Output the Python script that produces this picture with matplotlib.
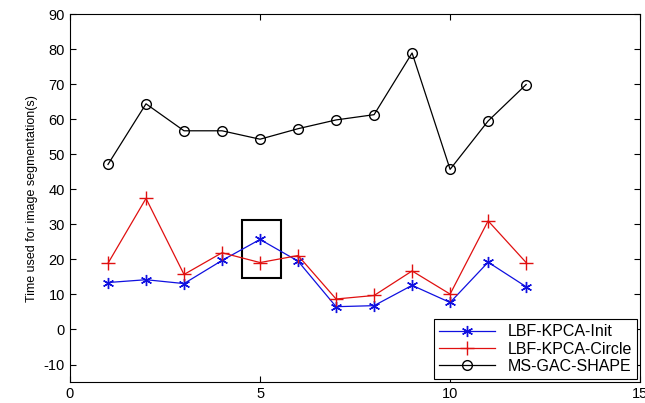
import matplotlib
matplotlib.use("Agg")
import matplotlib.pyplot as plt
from matplotlib.patches import Rectangle

plt.rcParams['font.family'] = ['Liberation Sans', 'DejaVu Sans']
plt.rcParams['axes.unicode_minus'] = False

images = [1, 2, 3, 4, 5, 6, 7, 8, 9, 10, 11, 12]
lbf_init = [13.4, 14.2, 13.1, 19.7, 25.7, 19.5, 6.5, 6.8, 12.6, 7.7, 19.2, 12.2]
lbf_circle = [18.9, 37.4, 15.7, 21.9, 19.1, 21.1, 8.7, 9.7, 16.7, 10.1, 31.0, 19.1]
ms_gac = [47.1, 64.4, 56.7, 56.7, 54.3, 57.3, 59.8, 61.3, 78.9, 45.7, 59.5, 69.9]

# highlighted region around image 5
box_x = (4.52, 5.55)
box_y = (14.7, 31.2)

fig = plt.figure(figsize=(6.45, 4.03), dpi=100)
ax = fig.add_axes([0.1085, 0.052, 0.884, 0.913])

ax.plot(images, lbf_init, color='#1010e0', marker=(6, 2, 0), markersize=8, lw=0.9,
        markeredgewidth=1.0, label='LBF-KPCA-Init')
ax.plot(images, lbf_circle, color='#e01010', marker='+', markersize=10, lw=0.9,
        label='LBF-KPCA-Circle')
ax.plot(images, ms_gac, color='black', marker='o', markersize=7, lw=0.9,
        markerfacecolor='none', label='MS-GAC-SHAPE')

ax.add_patch(Rectangle((box_x[0], box_y[0]), box_x[1] - box_x[0], box_y[1] - box_y[0],
                       fill=False, edgecolor='black', lw=1.5))

ax.set_xlim(0, 15)
ax.set_ylim(-15, 90)
ax.set_xticks([0, 5, 10, 15])
ax.set_yticks(range(-10, 91, 10))
ax.tick_params(direction='in', top=True, right=True, labelsize=10.5, length=4)
ax.set_ylabel('Time used for image segmentation(s)', fontsize=9)

leg = ax.legend(loc='lower right', fontsize=11.5, fancybox=False, edgecolor='black',
                framealpha=1, borderaxespad=0.2, handlelength=3.5, labelspacing=0.15,
                borderpad=0.3)
leg.get_frame().set_linewidth(0.8)

fig.savefig('out.png', dpi=100)
